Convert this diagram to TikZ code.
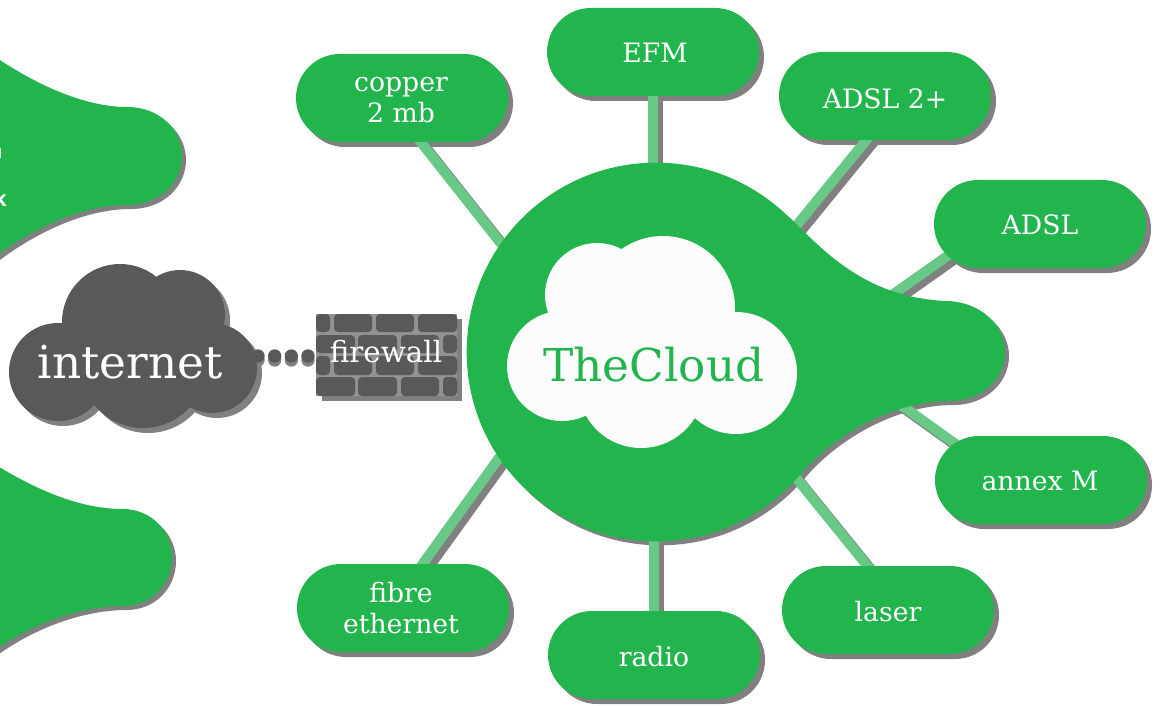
\documentclass[tikz,border=0pt]{standalone}
\usepackage{fontspec}
\setmainfont{DejaVu Serif}
\newfontfamily\edgefont{Open Sans}
\usetikzlibrary{shapes.misc}
\definecolor{hubgreen}{HTML}{23B54D}
\definecolor{bandgreen}{HTML}{68C987}
\definecolor{shadegray}{HTML}{808080}
\definecolor{darkgray}{HTML}{58595B}
\definecolor{mortar}{HTML}{929292}
\definecolor{cloudwhite}{HTML}{FCFCFC}
\pgfdeclarelayer{paper}
\pgfdeclarelayer{shad}
\pgfdeclarelayer{conn}
\pgfsetlayers{paper,shad,conn,main}
\newcommand{\szf}[2]{\fontsize{#1}{#2}\selectfont}
\tikzset{
  pillshape/.style={rounded rectangle, minimum width=159pt, minimum height=66pt, inner sep=0pt, outer sep=0pt},
  pill/.style={pillshape, fill=hubgreen},
  pilltext/.style={text=white, inner sep=0pt, align=center, font=\szf{20}{23}},
  pillshade/.style={pillshape, fill=shadegray},
  bandshade/.style={line width=7.5pt, draw=shadegray, shorten <=-4pt, shorten >=-4pt, transform canvas={xshift=3.75pt, yshift=-3.75pt}},
  band/.style={line width=7.5pt, draw=bandgreen, shorten <=-4pt, shorten >=-4pt},
  hubshape/.style={circle, minimum size=284pt, inner sep=0pt, outer sep=0pt},
  brick/.style={fill=darkgray, rounded corners=3pt},
  chainlink/.style={line width=10pt, line cap=round, dash pattern=on 0pt off 12.5pt},
}
% name, pill x, y, label x, y, text
\newcommand{\pill}[6]{%
  \node[pill] (#1) at (#2,#3) {};
  \node[pilltext] (#1-t) at (#4,#5) {#6};
  \begin{pgfonlayer}{shad}\node[pillshade] (#1-s) at (#2+5,#3+5) {};\end{pgfonlayer}}
\newcommand{\wire}[2]{%
  \begin{pgfonlayer}{conn}
    \draw[bandshade] (#1) -- (#2);
    \draw[band] (#1) -- (#2);
  \end{pgfonlayer}}
\newcommand{\tailpath}{(700,220) -- (790,218) .. controls (830,258) and (870,297) .. (945,301)
  .. controls (980,301) and (1005,325) .. (1005,352)
  .. controls (1005,380) and (980,401) .. (950,401)
  .. controls (890,401) and (832,437) .. (800,475) -- (700,480) -- cycle}
\newcommand{\blobA}{(-12,52) .. controls (35,85) and (85,107) .. (127,107)
  .. controls (160,107) and (182,130) .. (182,156)
  .. controls (182,182) and (160,205) .. (127,205)
  .. controls (85,205) and (35,225) .. (-12,262) -- cycle}
\newcommand{\blobB}{(-12,460) .. controls (35,490) and (80,509) .. (123,509)
  .. controls (150,509) and (172,530) .. (172,557)
  .. controls (172,585) and (150,606) .. (123,606)
  .. controls (85,606) and (35,620) .. (-12,655) -- cycle}
\newcommand{\whitecloud}{(663,308) circle (72) (597,295) circle (52) (562,366) circle (55)
  (736,373) circle (61) (641,385) circle (63) (650,350) circle (60)}
\newcommand{\netcloud}{(120,322) circle (58) (180,315) circle (45) (58,372) circle (49)
  (212,368) circle (45) (143,365) circle (63) (135,345) circle (60)}
\begin{document}
\begin{tikzpicture}[x=0.75pt,y=-0.75pt]
\useasboundingbox (0,0) rectangle (1160,706);
\begin{pgfonlayer}{paper}
\fill[white] (0,0) rectangle (1160,706);
\end{pgfonlayer}
\begin{scope}
\clip (0,0) rectangle (1160,706);
% left partial shapes
\fill[shadegray,shift={(4,4)}] \blobA;
\fill[hubgreen] \blobA;
\fill[shadegray,shift={(4,4)}] \blobB;
\fill[hubgreen] \blobB;
\node[text=white,anchor=base east,inner sep=0pt,font=\edgefont\bfseries\szf{16}{16}] (edgen) at (3,159) {n};
\node[text=white,anchor=base east,inner sep=0pt,font=\edgefont\bfseries\szf{16}{16}] (edgek) at (7,207) {k};
\end{scope}
% hub
\begin{pgfonlayer}{shad}
  \node[hubshape,fill=shadegray] (hub-s) at (660,356) {};
  \fill[shadegray,shift={(4,4)}] \tailpath;
\end{pgfonlayer}
\node[hubshape,fill=hubgreen] (hub) at (656,352) {};
\fill[hubgreen] \tailpath;
\fill[cloudwhite] \whitecloud;
\node[text=hubgreen,inner sep=0pt,font=\szf{34}{36}] (cloudlabel) at (654,365) {TheCloud};
% pills
\pill{copper}{402}{98}{401}{100}{copper\\2 mb}
\pill{efm}{653}{52}{655}{53}{EFM}
\pill{adslp}{885}{96}{885}{99}{ADSL 2+}
\pill{adsl}{1040}{224}{1040}{225}{ADSL}
\pill{annex}{1041}{480}{1040}{481}{annex M}
\pill{laser}{888}{610}{888}{612}{laser}
\pill{radio}{654}{655}{654}{657}{radio}
\pill{fibre}{403}{608}{401}{608}{fibre\\ethernet}
% tail ends
\coordinate (tailtop) at (885,300);
\coordinate (tailbot) at (880,390);
\wire{copper.-67}{hub.145.4}
\wire{efm.south}{efm.south |- hub.north}
\wire{adslp.-113}{hub.42.5}
\wire{adsl.199.6}{tailtop}
\wire{annex.157}{tailbot}
\wire{laser.115.5}{hub.-42.6}
\wire{radio.north}{radio.north |- hub.south}
\wire{fibre.66.6}{hub.214.4}
% internet cloud
\begin{pgfonlayer}{shad}
  \fill[shadegray,shift={(5,5)}] \netcloud;
\end{pgfonlayer}
\fill[darkgray] \netcloud;
\node[text=white,inner sep=0pt,font=\szf{34}{36}] (internet) at (130,362) {internet};
% firewall
\fill[shadegray] (322,319) rectangle (462,401);
\fill[mortar] (316,314) rectangle (457,396);
\foreach \yt/\yb in {314/332,356/375}{
  \foreach \xl/\xr in {316/330,334/372,376/414,418/457}{
    \fill[brick] (\xl,\yt) rectangle (\xr,\yb);
  }}
\foreach \yt/\yb in {335/353,377/396}{
  \foreach \xl/\xr in {316/355,358/397,401/439,443/457}{
    \fill[brick] (\xl,\yt) rectangle (\xr,\yb);
  }}
\node[text=white,inner sep=0pt,font=\szf{22}{24}] (firewall) at (386,352) {firewall};
% chain
\coordinate (chainin) at (258,356);
\coordinate (chainout) at (316,356);
\begin{pgfonlayer}{conn}
  \draw[chainlink,draw=shadegray] ([yshift=-3pt]chainin) -- ([yshift=-3pt]chainout);
\end{pgfonlayer}
\draw[chainlink,draw=darkgray] (chainin) -- (chainout);
\end{tikzpicture}
\end{document}
